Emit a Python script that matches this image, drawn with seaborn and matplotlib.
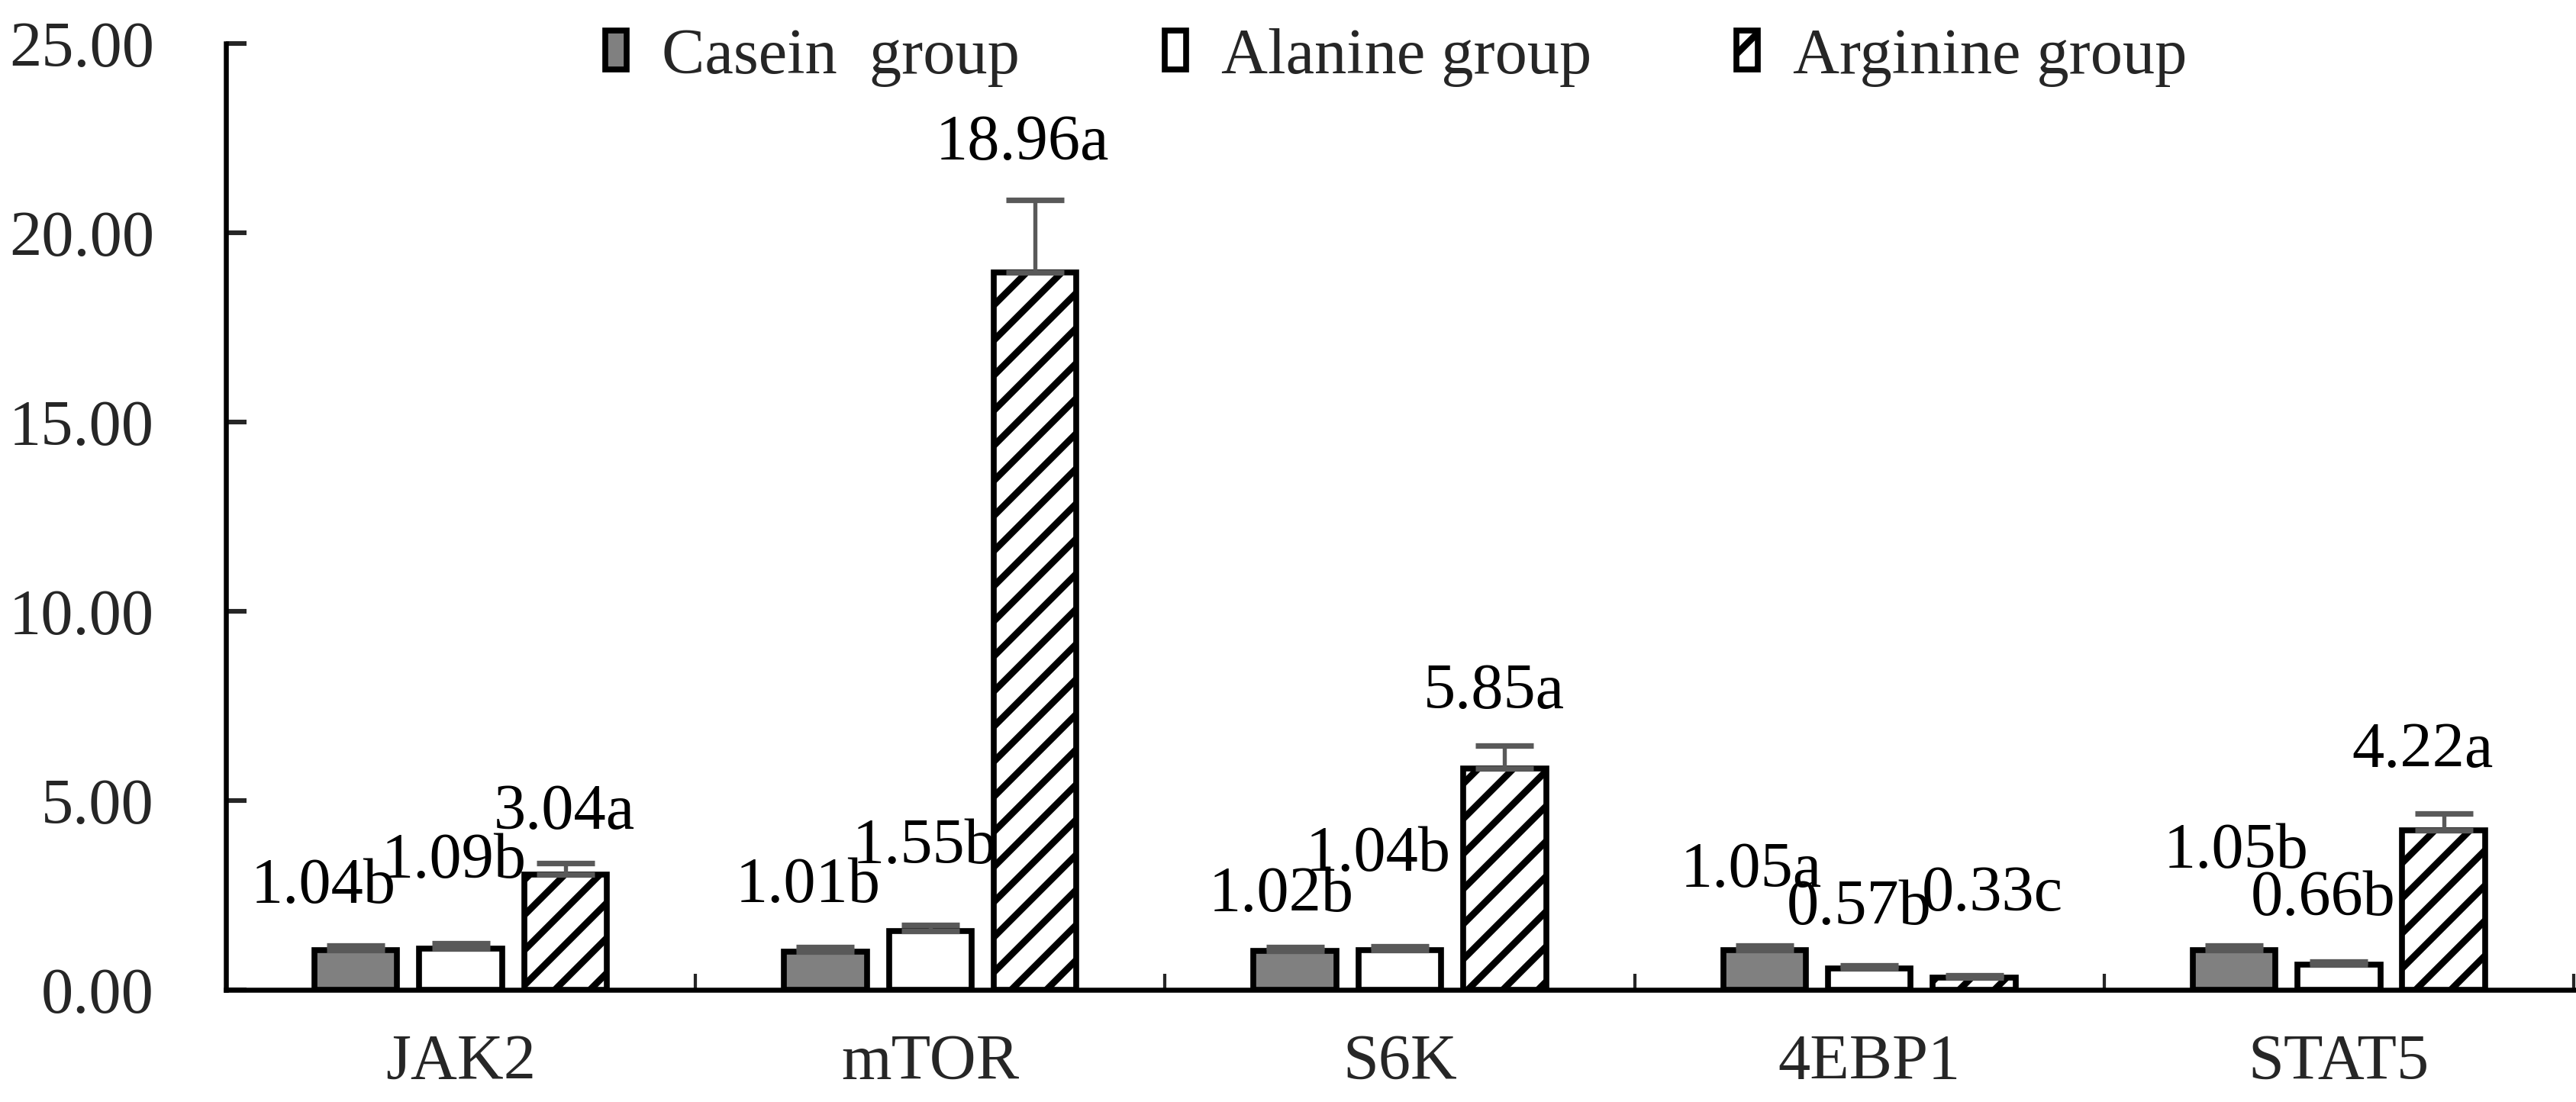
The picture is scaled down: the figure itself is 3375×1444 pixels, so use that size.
import numpy as np
import pandas as pd
import matplotlib
matplotlib.use("Agg")
import matplotlib.pyplot as plt
from matplotlib.patches import Patch
import seaborn as sns

# Data
genes = ["JAK2", "mTOR", "S6K", "4EBP1", "STAT5"]
groups = ["Casein  group", "Alanine group", "Arginine group"]

casein_mean = [1.04, 1.01, 1.02, 1.05, 1.05]
alanine_mean = [1.09, 1.55, 1.04, 0.57, 0.66]
arginine_mean = [3.04, 18.96, 5.85, 0.33, 4.22]

casein_err = [0.12, 0.12, 0.11, 0.12, 0.12]
alanine_err = [0.14, 0.16, 0.11, 0.08, 0.09]
arginine_err = [0.31, 1.91, 0.60, 0.05, 0.44]

casein_letters = ["b", "b", "b", "a", "b"]
alanine_letters = ["b", "b", "b", "b", "b"]
arginine_letters = ["a", "a", "a", "c", "a"]

y_ticks = [0, 5, 10, 15, 20, 25]

# Label offsets from the bar top (pixels), per gene / group
label_dx = [[-43, -9, -2], [-23, -7, -17], [-18, -28, -14], [-18, -14, 24], [3, -21, -28]]
label_dy = [[83, 113, 81], [85, 110, 168], [73, 125, 99], [103, 78, 108], [128, 86, 103]]

means = [casein_mean, alanine_mean, arginine_mean]
errs = [casein_err, alanine_err, arginine_err]
letters = [casein_letters, alanine_letters, arginine_letters]

df = pd.DataFrame({
    "gene": genes * 3,
    "group": np.repeat(groups, len(genes)),
    "value": casein_mean + alanine_mean + arginine_mean,
})

# Style
DPI = 138
sns.set_style("white")
plt.rcParams["font.family"] = "Liberation Serif"
plt.rcParams["hatch.linewidth"] = 4.6
plt.rcParams["hatch.color"] = "black"

fs = 44
lw = 4.0
palette = {groups[0]: "#808080", groups[1]: "white", groups[2]: "white"}

fig = plt.figure(figsize=(3375 / DPI, 1444 / DPI), dpi=DPI)
ax = fig.add_axes([0.0877, 0.1018, 0.9114, 0.8587])

sns.barplot(data=df, x="gene", y="value", hue="group", order=genes, hue_order=groups,
            palette=palette, saturation=1, width=0.67, gap=0.21, errorbar=None,
            edgecolor="black", linewidth=lw, legend=False, ax=ax)

bar_conts = list(ax.containers)
for bar in bar_conts[2]:
    bar.set_hatch("/")

# Error bars and letters
for g, cont in enumerate(bar_conts):
    xs = [p.get_x() + p.get_width() / 2 for p in cont]
    ax.errorbar(xs, means[g], yerr=[np.zeros(len(genes)), errs[g]], fmt="none",
                ecolor="#595959", elinewidth=2.8, capsize=20, capthick=3.8, zorder=5)
    for i, x in enumerate(xs):
        ax.annotate(f"{means[g][i]:.2f}{letters[g][i]}", xy=(x, means[g][i]),
                    xytext=(label_dx[i][g], label_dy[i][g]), textcoords="offset pixels",
                    ha="center", va="center", fontsize=fs, color="black")

# Axes
ax.set_xlim(-0.5, len(genes) - 0.5)
ax.set_ylim(0, 25)
ax.set_yticks(y_ticks)
ax.set_yticklabels([f"{t:.2f}" for t in y_ticks], fontsize=fs)
ax.set_xticks(range(len(genes)))
ax.set_xticklabels(genes, fontsize=fs)
ax.set_xticks(np.arange(0.5, len(genes), 1.0), minor=True)
ax.set_xlabel("")
ax.set_ylabel("")
ax.tick_params(axis="y", direction="in", length=14, width=3.2, pad=49, left=True)
ax.tick_params(axis="x", which="major", length=0, pad=30)
ax.tick_params(axis="x", which="minor", direction="in", length=11, width=2.2, bottom=True)
sns.despine(ax=ax)
for s in ["left", "bottom"]:
    ax.spines[s].set_linewidth(3.4)
    ax.spines[s].set_color("black")

# Legend
handles = [
    Patch(facecolor="#808080", edgecolor="black", linewidth=lw),
    Patch(facecolor="white", edgecolor="black", linewidth=lw),
    Patch(facecolor="white", edgecolor="black", linewidth=lw, hatch="/"),
]
fig.legend(handles, groups, loc="center", bbox_to_anchor=(0.542, 0.948), ncol=3,
           frameon=False, fontsize=fs, handlelength=0.33, handleheight=0.56,
           handletextpad=0.55, columnspacing=2.25, borderpad=0)

fig.savefig("out.png", dpi=DPI, facecolor="white")
